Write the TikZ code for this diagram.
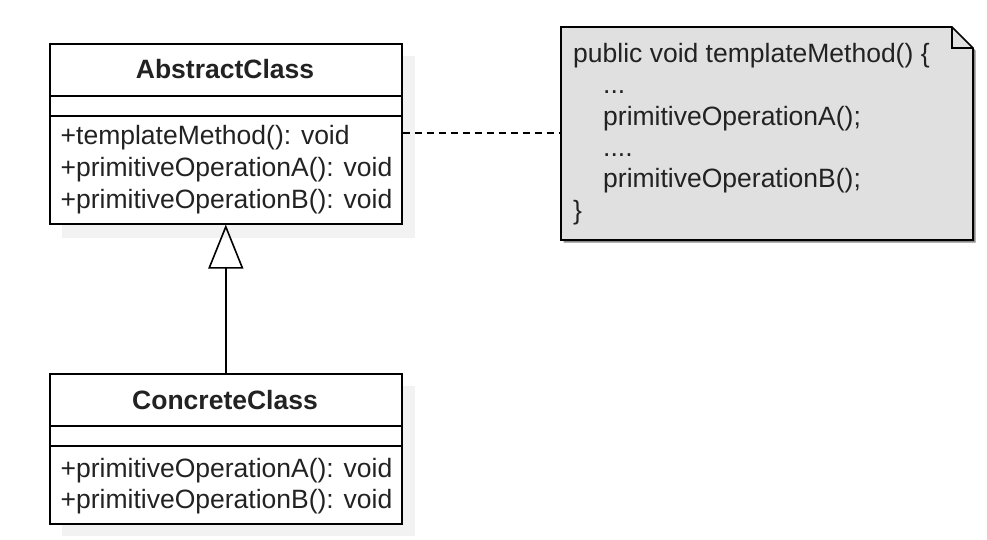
\documentclass[tikz,border=0pt]{standalone}
\usepackage{fontspec}
\setmainfont{Liberation Sans}
\usetikzlibrary{arrows.meta}
\definecolor{txt}{HTML}{222222}
\definecolor{notefill}{HTML}{E0E0E0}
\definecolor{shadowlight}{HTML}{F2F2F2}
\definecolor{shadowdark}{HTML}{8A8A8A}
\tikzset{
  umlline/.style={line width=1.6pt, draw=black},
  classbox/.style={umlline, fill=white, rectangle, inner sep=0pt, anchor=north west},
  txtline/.style={anchor=base west, inner sep=0pt, text=txt, font=\fontsize{26.5}{31}\selectfont},
  titleline/.style={anchor=base, inner sep=0pt, text=txt, font=\fontsize{26.5}{31}\selectfont\bfseries},
}
\begin{document}
\begin{tikzpicture}[x=1pt,y=-1pt]
\useasboundingbox[fill=white] (0,0) rectangle (987,540);
% shadows
\fill[shadowlight] (62,56) rectangle (415,238);
\fill[shadowlight] (62,386) rectangle (415,536);
\fill[shadowdark, shift={(2.5,2.5)}] (561,27) -- (952,27) -- (973,48) -- (973,240) -- (561,240) -- cycle;
% AbstractClass
\node[classbox, minimum width=352pt, minimum height=180pt] (abs) at (49,43) {};
\draw[umlline] (49,96) coordinate (absS1) -- (401,96);
\draw[umlline] (49,116) coordinate (absS2) -- (401,116);
\node[titleline] (absname) at (225,79) {AbstractClass};
\node[txtline] (absm1) at (60.5,145) {+templateMethod(): void};
\node[txtline] (absm2) at (60.5,177) {+primitiveOperationA(): void};
\node[txtline] (absm3) at (60.5,208) {+primitiveOperationB(): void};
% ConcreteClass
\node[classbox, minimum width=352pt, minimum height=150pt] (con) at (49,373) {};
\draw[umlline] (49,426) coordinate (conS1) -- (401,426);
\draw[umlline] (49,446) coordinate (conS2) -- (401,446);
\node[titleline] (conname) at (225,409) {ConcreteClass};
\node[txtline] (conm1) at (60.5,477) {+primitiveOperationA(): void};
\node[txtline] (conm2) at (60.5,508) {+primitiveOperationB(): void};
% generalization
\draw[umlline, -{Triangle[open, length=44pt, width=35pt, line width=1.6pt]}] (con.north) -- (abs.south);
% note
\draw[umlline, fill=notefill, line join=miter] (561,27) -- (952,27) -- (973,48) -- (973,240) -- (561,240) -- cycle;
\draw[umlline, line join=miter] (952,27) -- (952,48) -- (973,48);
\node[inner sep=0pt, minimum width=412pt, minimum height=213pt, anchor=north west] (note) at (561,27) {};
\node[txtline] (n1) at (573,63) {public void templateMethod() \{};
\node[txtline] (n2) at (603,94) {...};
\node[txtline] (n3) at (603,126) {primitiveOperationA();};
\node[txtline] (n4) at (603,157) {....};
\node[txtline] (n5) at (603,188) {primitiveOperationB();};
\node[txtline] (n6) at (573,219) {\}};
% dashed link
\draw[umlline, dash pattern=on 7pt off 5pt] (abs.east |- 0,133) -- (note.west |- 0,133);
\end{tikzpicture}
\end{document}
